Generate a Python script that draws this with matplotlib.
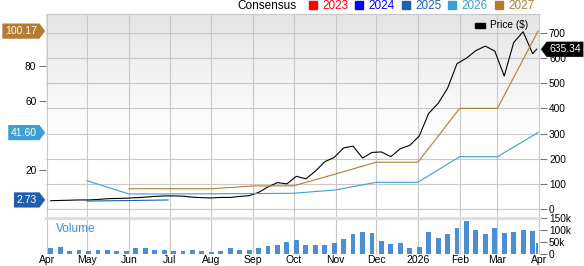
import matplotlib
matplotlib.use('Agg')
import matplotlib.pyplot as plt
from matplotlib.path import Path
from matplotlib.patches import Rectangle
from matplotlib.colors import LinearSegmentedColormap
import numpy as np
import pandas as pd

plt.rcParams['font.family'] = ['Liberation Sans', 'DejaVu Sans']

## data

# weekly price (right axis, $) and weekly volume (thousands)
week_start = '2025-04-04'
price = [33, 34, 35, 36, 36, 38, 41, 42, 43, 45, 47, 50, 52, 52, 51, 47, 45, 44, 46, 46,
         50, 53, 66, 88, 105, 100, 130, 120, 150, 188, 205, 243, 250, 203, 225, 227, 208,
         240, 253, 290, 380, 420, 480, 578, 600, 630, 648, 628, 529, 662, 705, 618]
last_date = '2026-03-30'
last_price = 635.34

volume = [25, 28, 12.5, 14, 10, 15, 15, 10, 11, 21, 25, 15, 14, 12.5, 11, 15, 10, 8, 12.5, 21,
          14, 14, 24, 31, 37, 46, 56, 35, 37, 37, 44, 61, 83, 89, 85, 51, 40, 42, 25, 28,
          90, 65, 80, 105, 137, 99, 80, 108, 86, 90, 99, 93]
last_volume = 42

# consensus EPS estimates (left axis)
dates_2025 = ['2025-05-01', '2025-06-01', '2025-06-30']
eps_2025 = [2.1, 2.4, 2.73]
dates_2026 = ['2025-05-01', '2025-06-01', '2025-07-01', '2025-08-01', '2025-09-01', '2025-10-01',
              '2025-11-01', '2025-12-01', '2026-01-01', '2026-02-01', '2026-03-01', '2026-03-31']
eps_2026 = [13.8, 6.2, 6.2, 6.3, 6.4, 6.6, 8.5, 12.9, 12.9, 27.7, 27.7, 41.60]
dates_2027 = ['2025-06-01', '2025-07-01', '2025-08-01', '2025-09-01', '2025-10-01', '2025-11-01',
              '2025-12-01', '2026-01-01', '2026-02-01', '2026-03-01', '2026-03-31']
eps_2027 = [9.2, 9.2, 9.2, 10.8, 10.9, 17.7, 24.5, 24.5, 55.6, 55.6, 100.17]

years = ['2023', '2024', '2025', '2026', '2027']
year_colors = ['#ff0000', '#0000ff', '#1e5fae', '#3d9fd1', '#b57b2f']

month_labels = ['Apr', 'May', 'Jun', 'Jul', 'Aug', 'Sep', 'Oct', 'Nov', 'Dec',
                '2026', 'Feb', 'Mar', 'Apr']
price_ticks = [0, 100, 200, 300, 400, 500, 600, 700]
eps_ticks = [20, 60, 80]
vol_ticks = [0, 50, 100, 150]
vol_labels = ['0', '50k', '100k', '150k']

weeks = pd.date_range(week_start, periods=len(price), freq='7D')
months = pd.date_range('2025-04-01', '2026-04-01', freq='MS')

## tag shaped label boxes
def tag_right(x0, y0, width, height, mutation_size):
    pad = 0.25 * mutation_size
    x0, y0 = x0 - pad, y0 - pad
    x1, y1 = x0 + width + 2 * pad, y0 + height + 2 * pad
    tip = (y1 - y0) * 0.38
    return Path([(x0, y0), (x1, y0), (x1 + tip, (y0 + y1) / 2), (x1, y1), (x0, y1), (x0, y0)],
                closed=True)

def tag_left(x0, y0, width, height, mutation_size):
    pad = 0.25 * mutation_size
    x0, y0 = x0 - pad, y0 - pad
    x1, y1 = x0 + width + 2 * pad, y0 + height + 2 * pad
    tip = (y1 - y0) * 0.38
    return Path([(x0, y0), (x1, y0), (x1, y1), (x0, y1), (x0 - tip, (y0 + y1) / 2), (x0, y0)],
                closed=True)

W, H = 584, 266
def fx(p):
    return p / W
def fy(p):
    return 1 - p / H

fig = plt.figure(figsize=(W / 100, H / 100), dpi=100)
ax = fig.add_axes([fx(46), fy(217.5), fx(540) - fx(46), fy(14) - fy(217.5)])
axv = fig.add_axes([fx(46), fy(253.5), fx(540) - fx(46), fy(217.5) - fy(253.5)], sharex=ax)
axe = ax.twinx()

grid_c = '#c8c8c8'

# background gradient of the price panel
bg = LinearSegmentedColormap.from_list('bg', [(0, '#ffffff'), (0.42, '#ffffff'), (1, '#e4e4e4')])
ax.imshow(np.linspace(0, 1, 256).reshape(-1, 1), extent=[0, 1, 0, 1], transform=ax.transAxes,
          aspect='auto', cmap=bg, origin='lower', zorder=0)

# price
ax.plot(list(weeks) + [pd.Timestamp(last_date)], price + [last_price], color='black', lw=0.8, zorder=3)
ax.set_ylim(-33.8, 775.6)
ax.set_yticks(price_ticks)
ax.yaxis.tick_right()
ax.set_xticks(months)
ax.grid(True, color=grid_c, lw=0.8)
ax.set_axisbelow(True)
ax.tick_params(axis='x', labelbottom=False, length=0)
ax.tick_params(axis='y', labelsize=7.3, length=5, width=0.8, color='#777777', pad=1.5)
for s in ['left', 'right', 'bottom']:
    ax.spines[s].set_visible(False)
ax.spines['top'].set_color(grid_c)
ax.spines['top'].set_linewidth(0.8)

# estimates
axe.plot(pd.to_datetime(dates_2025), eps_2025, color=year_colors[2], lw=0.8)
axe.plot(pd.to_datetime(dates_2026), eps_2026, color=year_colors[3], lw=0.8)
axe.plot(pd.to_datetime(dates_2027), eps_2027, color=year_colors[4], lw=0.8)
axe.set_ylim(-7.39, 110.04)
axe.yaxis.tick_left()
axe.set_yticks(eps_ticks)
axe.tick_params(axis='y', labelsize=7.3, length=5, width=0.8, color='#777777', pad=2)
for s in axe.spines.values():
    s.set_visible(False)

# volume
axv.bar(weeks, volume, width=3.6, color='#4a8fd3', zorder=2)
axv.bar(pd.Timestamp(last_date), last_volume, width=1.6, color='#4a8fd3', zorder=2)
axv.set_ylim(0, 150)
axv.set_yticks(vol_ticks)
axv.set_yticklabels(vol_labels)
axv.yaxis.tick_right()
axv.grid(True, axis='x', color=grid_c, lw=0.8)
axv.set_axisbelow(True)
axv.set_xticks(months)
axv.set_xticklabels(month_labels)
axv.tick_params(axis='x', length=0, labelsize=7.5, pad=1)
axv.tick_params(axis='y', labelsize=7.3, length=5, width=0.8, color='#777777', pad=1.5)
for s in ['left', 'right', 'bottom']:
    axv.spines[s].set_visible(False)
axv.spines['top'].set_color('#dedede')
axv.spines['top'].set_linewidth(2.2)
axv.text(0.02, 0.68, 'Volume', transform=axv.transAxes, color='#3b8fd0', fontsize=8.5, va='center')

ax.set_xlim(pd.Timestamp('2025-03-31 12:00'), pd.Timestamp('2026-04-01 12:00'))

# value tags
for val, col in [(eps_2027[-1], year_colors[4]), (eps_2026[-1], year_colors[3]), (eps_2025[-1], year_colors[2])]:
    axe.annotate('%.2f' % val, xy=(0, val), xycoords=('axes fraction', 'data'),
                 xytext=(-6.6, 0), textcoords='offset points', ha='right', va='center',
                 color='white', fontsize=7.5, annotation_clip=False, zorder=10,
                 bbox=dict(boxstyle=tag_right, fc=col, ec='none'))
axe.annotate('%.2f' % last_price, xy=(1, ax.transData.transform((0, last_price))[1]),
             xycoords=('axes fraction', 'figure pixels'),
             xytext=(6.6, 0), textcoords='offset points', ha='left', va='center',
             color='white', fontsize=7.5, annotation_clip=False, zorder=10,
             bbox=dict(boxstyle=tag_left, fc='black', ec='none'))

# legends
fig.text(fx(296), fy(9.3), 'Consensus', ha='right', va='baseline', fontsize=8.5)
sq_x = [308.7, 355, 402, 448, 495]
for x, yr, col in zip(sq_x, years, year_colors):
    fig.patches.append(Rectangle((fx(x), fy(8.7)), fx(8), 7.7 / H, transform=fig.transFigure,
                                 color=col, zorder=5))
    fig.text(fx(x + 13.5), fy(9.3), yr, color=col, va='baseline', fontsize=8.5)

fig.patches.append(Rectangle((fx(475), fy(27.5)), fx(10), 4.5 / H, transform=fig.transFigure,
                             color='black', zorder=5))
fig.text(fx(490), fy(28.5), 'Price ($)', va='baseline', fontsize=7.3)

fig.savefig('out.png', dpi=100)
